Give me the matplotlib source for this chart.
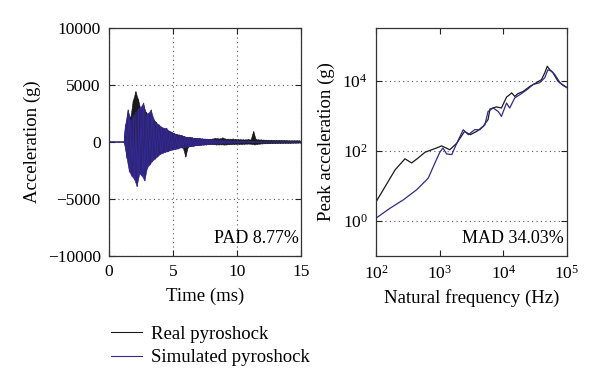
import numpy as np
import matplotlib
matplotlib.use("Agg")
import matplotlib.pyplot as plt
from matplotlib.ticker import LogLocator, NullFormatter

plt.rcParams['font.family'] = ['Liberation Serif', 'DejaVu Serif']
plt.rcParams['font.size'] = 12.5

# time history, sampled every 0.1 ms from 1.2 ms (zero before)
t_start = 1.2
sim_acc = [0, 1500, -1400, 2800, -2600, 1900, -3000, 2300, -3300, 2600,
           -3900, 2900, -2800, 3000, -3000, 3400, -3400, 2400, -2300, 2500,
           -2000, 2800, -1700, 2000, -1500, 1600, -1300, 1500, -1100, 1300,
           -1000, 1200, -900, 1200, -850, 900, -750, 800, -700, 760,
           -650, 600, -600, 550, -500, 500, -550, 450, -500, 400,
           -450, 380, -400, 350, -380, 300, -320, 300, -300, 280,
           -280, 250, -260, 240, -250, 220, -220, 200, -220, 200,
           -200, 180, -180, 170, -160, 160, -150, 150, -140, 140,
           -130, 130, -120, 120, -110, 110, -100, 100, -100, 90,
           -90, 85, -80, 80, -75, 70, -70, 65, -60, 60,
           -55, 55, -50, 50, -45, 45, -40, 40, -40, 35,
           -35, 30, -30, 30, -25, 25, -25, 20, -20, 20,
           -20, 15, -15, 15, -15, 10, -10, 10, -10, 10,
           -10, 8, -8, 8, -6, 6, -5, 5, -5]
real_acc = [0, 1300, -1200, 2500, -2300, 2100, -2800, 3600, -3000, 4400,
            -3600, 3700, -2500, 2800, -2700, 3200, -3000, 2600, -2100, 2300,
            -1900, 2500, -1500, 1900, -1400, 1700, -1200, 1400, -1000, 1250,
            -900, 1100, -850, 1000, -800, 950, -700, 850, -650, 700,
            -600, 650, -550, 600, -500, 550, -500, 450, -1300, 400,
            -450, 400, -380, 350, -350, 320, -300, 300, -300, 280,
            -260, 260, -250, 240, -240, 230, -220, 230, -220, 250,
            -230, 300, -250, 280, -250, 260, -240, 350, -260, 250,
            -250, 240, -230, 230, -220, 250, -210, 220, -200, 200,
            -200, 190, -200, 180, -190, 180, -180, 200, -180, 170,
            -200, 900, -250, 200, -200, 180, -180, 170, -160, 160,
            -150, 150, -150, 140, -140, 140, -130, 130, -130, 120,
            -120, 130, -120, 120, -110, 120, -110, 110, -110, 100,
            -110, 100, -100, 100, -100, 100, -90, 100, -90]

# shock response spectrum
real_f = [100, 200, 285, 363, 457, 589, 891, 1072, 1445, 1862, 2455, 3020,
          3802, 4786, 5754, 6166, 7762, 9333, 11220, 12590, 13490, 15140,
          16980, 20420, 26300, 33110, 39810, 44670, 48980, 53700, 60260,
          72440, 87100, 100000]
real_pk = [3.5, 28.8, 59, 45, 62, 91, 120, 138, 107, 166, 355, 288, 355, 490,
           776, 1549, 1778, 1660, 3388, 3981, 4467, 3548, 4266, 4898, 6918,
           8710, 10720, 16600, 25700, 20420, 16600, 9550, 7244, 6310]
sim_f = [100, 166, 269, 437, 661, 851, 1000, 1122, 1288, 1549, 1862, 2344,
         2818, 3548, 4266, 5129, 5754, 6918, 8318, 9333, 11220, 12590, 15140,
         18200, 23440, 29510, 37150, 44670, 50120, 57540, 64570, 77620,
         100000]
sim_pk = [1.2, 2.3, 4.0, 7.8, 16.6, 46.8, 89, 120, 81, 78, 166, 398, 288,
          398, 398, 550, 1318, 1660, 1318, 955, 2291, 1660, 3236, 3981, 5495,
          7762, 8710, 12020, 20420, 18620, 14790, 8710, 6310]

black = '#1a1a1a'
blue = '#32288f'
grid_kw = dict(color='#555555', linestyle=(0, (1, 3)), linewidth=0.8)


def draw_signal(ax, acc, color):
    acc = np.asarray(acc, float)
    ta = t_start + 0.1 * np.arange(len(acc))
    # dense oscillation: fill between the positive and negative peaks
    px = np.concatenate([[ta[0]], ta[1::2], ta[2::2][::-1]])
    py = np.concatenate([[0.0], acc[1::2], acc[2::2][::-1]])
    ax.fill(px, py, color=color, lw=0.4, ec=color)
    line, = ax.plot(np.concatenate([[0.0], ta]), np.concatenate([[0.0], acc]),
                    color=color, lw=0.8)
    return line


fig = plt.figure(figsize=(6, 3.88), dpi=100)
ax1 = fig.add_axes([0.1817, 0.3402, 0.32, 0.5876])
ax2 = fig.add_axes([0.6267, 0.3402, 0.3183, 0.5876])

l1 = draw_signal(ax1, real_acc, black)
l2 = draw_signal(ax1, sim_acc, blue)
ax1.set_xlim(0, 15)
ax1.set_ylim(-10000, 10000)
ax1.set_xticks([0, 5, 10, 15])
ax1.set_yticks([-10000, -5000, 0, 5000, 10000])
ax1.grid(True, **grid_kw)
ax1.set_xlabel("Time (ms)", fontsize=13.5, labelpad=5)
ax1.set_ylabel("Acceleration (g)", fontsize=13.5, labelpad=5)
ax1.text(14.85, -8500, "PAD 8.77%", ha='right', va='center', fontsize=13)

ax2.loglog(real_f, real_pk, color=black, lw=0.9)
ax2.loglog(sim_f, sim_pk, color=blue, lw=0.9)
ax2.set_xlim(100, 100000)
ax2.set_ylim(0.1, 10 ** 5.5)
ax2.set_xticks([1e2, 1e3, 1e4, 1e5])
ax2.set_yticks([1e0, 1e2, 1e4])
ax2.xaxis.set_minor_locator(LogLocator(base=10, subs=np.arange(2, 10)))
ax2.xaxis.set_minor_formatter(NullFormatter())
ax2.yaxis.set_minor_locator(plt.NullLocator())
ax2.grid(True, which='minor', axis='x', **grid_kw)
ax2.grid(True, which='major', axis='y', **grid_kw)
ax2.set_xlabel("Natural frequency (Hz)", fontsize=13.5, labelpad=5)
ax2.set_ylabel("Peak acceleration (g)", fontsize=13.5, labelpad=5)
ax2.text(0.985, 0.075, "MAD 34.03%", transform=ax2.transAxes,
         ha='right', va='center', fontsize=13)

for ax in (ax1, ax2):
    ax.tick_params(which='both', direction='in', top=True, right=True,
                   colors='#222222', labelcolor='black', pad=6)
    ax.tick_params(which='major', length=4)
    ax.tick_params(which='minor', length=2)
    for s in ax.spines.values():
        s.set_color('#333333')
        s.set_linewidth(0.9)

fig.legend([l1, l2], ["Real pyroshock", "Simulated pyroshock"],
           loc='upper left', bbox_to_anchor=(0.172, 0.18), frameon=False,
           handlelength=1.65, handletextpad=0.5, labelspacing=0.33,
           fontsize=13.5, borderaxespad=0)

fig.savefig("out.png", dpi=100)
